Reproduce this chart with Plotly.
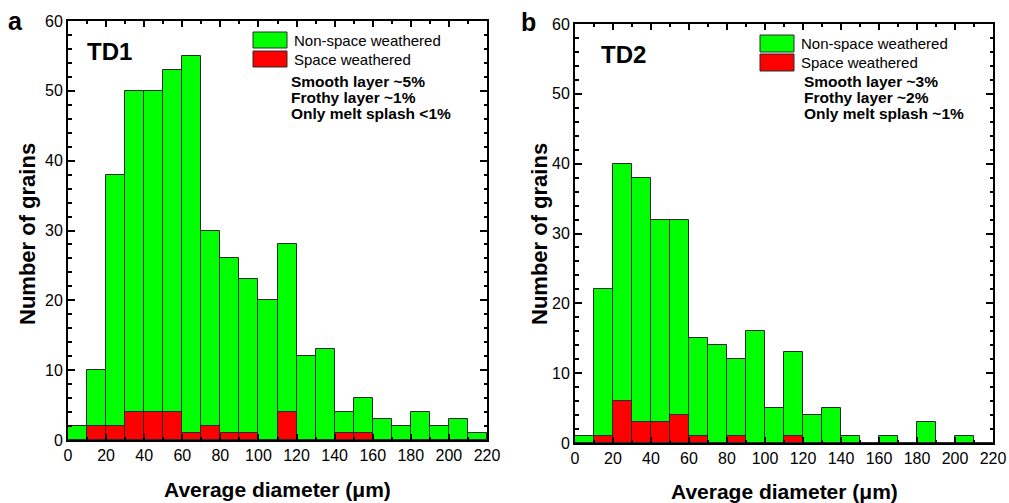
import plotly.graph_objects as go

W, H = 1009, 503

# ---- data ----
bin_left = [0, 10, 20, 30, 40, 50, 60, 70, 80, 90, 100, 110, 120, 130, 140, 150, 160, 170, 180, 190, 200, 210]
bin_width = 10
td1_all = [2, 10, 38, 50, 50, 53, 55, 30, 26, 23, 20, 28, 12, 13, 4, 6, 3, 2, 4, 2, 3, 1]
td1_sw = [0, 2, 2, 4, 4, 4, 1, 2, 1, 1, 0, 4, 0, 0, 1, 1, 0, 0, 0, 0, 0, 0]
td2_all = [1, 22, 40, 38, 32, 32, 15, 14, 12, 16, 5, 13, 4, 5, 1, 0, 1, 0, 3, 0, 1, 0]
td2_sw = [0, 1, 6, 3, 3, 4, 1, 0, 1, 0, 0, 1, 0, 0, 0, 0, 0, 0, 0, 0, 0, 0]
x_ticks = [0, 20, 40, 60, 80, 100, 120, 140, 160, 180, 200, 220]
y_ticks = [0, 10, 20, 30, 40, 50, 60]
legend_labels = ["Non-space weathered", "Space weathered"]
td1_notes = ["Smooth layer ~5%", "Frothy layer ~1%", "Only melt splash <1%"]
td2_notes = ["Smooth layer ~3%", "Frothy layer ~2%", "Only melt splash ~1%"]

GREEN = "#00FF00"
RED = "#FF0000"
EDGE = "#2a2a2a"
FONT = "Arial, Liberation Sans, sans-serif"

centers = [b + bin_width / 2 for b in bin_left]


def px(x):
    return x / W


def py(y):
    return 1 - y / H


fig = go.Figure()

panels = [
    dict(all=td1_all, sw=td1_sw, xa="x", ya="y"),
    dict(all=td2_all, sw=td2_sw, xa="x2", ya="y2"),
]
for p in panels:
    fig.add_trace(go.Bar(x=centers, y=p["all"], width=bin_width, name=legend_labels[0],
                         marker=dict(color=GREEN, line=dict(color=EDGE, width=1)),
                         xaxis=p["xa"], yaxis=p["ya"], showlegend=False))
    fig.add_trace(go.Bar(x=centers, y=p["sw"], width=bin_width, name=legend_labels[1],
                         marker=dict(color=RED, line=dict(color=EDGE, width=1)),
                         xaxis=p["xa"], yaxis=p["ya"], showlegend=False))

axis_common = dict(showline=True, linecolor="black", linewidth=2, mirror="allticks",
                   ticks="inside", tickcolor="black", tickwidth=1.5, showgrid=False,
                   zeroline=False, automargin=False, layer="above traces",
                   tickfont=dict(family=FONT, size=16, color="black"))

# panel geometry in pixels: (left, right, top, bottom)
geo = [(68, 487, 21, 440), (575, 993, 24, 443)]

for i, (l, r, t, b) in enumerate(geo):
    sfx = "" if i == 0 else str(i + 1)
    fig.layout["xaxis" + sfx] = dict(axis_common, domain=[px(l), px(r)], range=[0, 220],
                                    tickvals=x_ticks, ticklen=6,
                                    minor=dict(dtick=10, ticklen=3, ticks="inside", tickcolor="black", tickwidth=1.5),
                                    anchor="y" + sfx)
    fig.layout["yaxis" + sfx] = dict(axis_common, domain=[py(b), py(t)], range=[0, 60],
                                    tickvals=y_ticks, ticklen=7,
                                    minor=dict(dtick=2, ticklen=3.5, ticks="inside", tickcolor="black", tickwidth=1.5),
                                    anchor="x" + sfx)

annotations = []
shapes = []


def ann(text, x, y, size, bold=False, xanchor="left", textangle=0):
    annotations.append(dict(text=f"<b>{text}</b>" if bold else text, x=px(x), y=py(y),
                            xref="paper", yref="paper", xanchor=xanchor, yanchor="middle",
                            showarrow=False, textangle=textangle,
                            font=dict(family=FONT, size=size, color="black")))


# panel letters
ann("a", 15, 21, 25, bold=True, xanchor="center")
ann("b", 528, 22, 25, bold=True, xanchor="center")
# sample titles
ann("TD1", 85, 52, 24, bold=True)
ann("TD2", 599, 54, 24, bold=True)

# axis titles
ann("Average diameter (μm)", 277, 489, 21, bold=True, xanchor="center")
ann("Average diameter (μm)", 784, 491, 21, bold=True, xanchor="center")
ann("Number of grains", 28, 234, 22, bold=True, xanchor="center", textangle=-90)
ann("Number of grains", 540, 234, 22, bold=True, xanchor="center", textangle=-90)

# legends (key boxes + labels) and notes
legends = [
    dict(bx=(253, 287), g=(32, 48), r=(51, 67), tx=292, notes=td1_notes, nx=289),
    dict(bx=(760, 794), g=(35, 52), r=(54, 71), tx=799, notes=td2_notes, nx=802),
]
for lg in legends:
    for (y0, y1), col, lab in [(lg["g"], GREEN, legend_labels[0]), (lg["r"], RED, legend_labels[1])]:
        shapes.append(dict(type="rect", xref="paper", yref="paper",
                           x0=px(lg["bx"][0]), x1=px(lg["bx"][1]), y0=py(y1), y1=py(y0),
                           fillcolor=col, line=dict(color=EDGE, width=1)))
        ann(lab, lg["tx"], (y0 + y1) / 2, 15)
    for k, note in enumerate(lg["notes"]):
        ann(note, lg["nx"], 82 + 15.7 * k, 15.5, bold=True)

fig.update_layout(width=W, height=H, margin=dict(l=0, r=0, t=0, b=0), template="none",
                  paper_bgcolor="white", plot_bgcolor="white", barmode="overlay",
                  bargap=0, annotations=annotations, shapes=shapes, showlegend=False)

fig.write_html("out.html", config={"displayModeBar": False},
               post_script="document.body.style.margin='0';document.body.style.overflow='hidden';")
